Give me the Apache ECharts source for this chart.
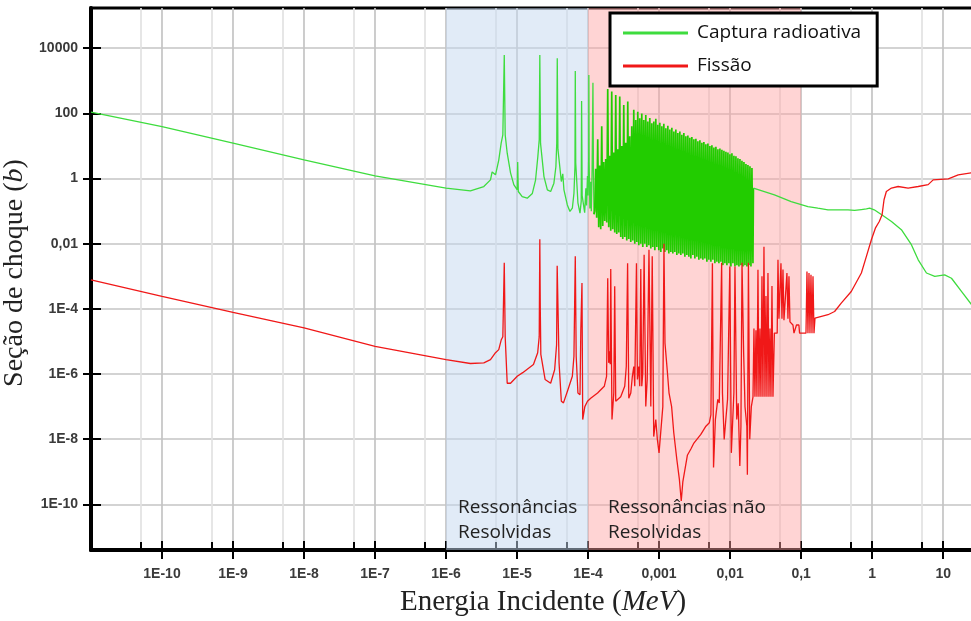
<!DOCTYPE html>
<html>
<head>
<meta charset="utf-8">
<script src="https://cdn.jsdelivr.net/npm/echarts@6/dist/echarts.min.js"></script>
<style>
  html, body { margin: 0; padding: 0; background: #fff; }
  #chart { width: 971px; height: 621px; }
</style>
</head>
<body>
<div id="chart"></div>
<script>
// Axis ranges (MeV, barn)
const xMin = 1e-11, xMax = 29;
const yMin = 3.96e-12, yMax = 1.72e5;

// Tick positions and their printed labels
const xTickValues = [1e-10, 1e-9, 1e-8, 1e-7, 1e-6, 1e-5, 1e-4, 1e-3, 1e-2, 1e-1, 1, 10];
const xTickLabels = ['1E-10', '1E-9', '1E-8', '1E-7', '1E-6', '1E-5', '1E-4', '0,001', '0,01', '0,1', '1', '10'];
const xMinorValues = [5e-11, 5e-10, 5e-9, 5e-8, 5e-7, 5e-6, 5e-5, 5e-4, 5e-3, 5e-2, 0.5, 5];
const yTickValues = [1e4, 1e2, 1, 1e-2, 1e-4, 1e-6, 1e-8, 1e-10];
const yTickLabels = ['10000', '100', '1', '0,01', '1E-4', '1E-6', '1E-8', '1E-10'];

// Energy bands of the resonance regions (MeV)
const resolvedBand = [1e-6, 1e-4];
const unresolvedBand = [1e-4, 0.1];

// Radiative capture: thermal range and resolved resonances [E (MeV), sigma (b)]
const captureResolved = [
  [1e-11, 110], [1e-10, 39], [1e-9, 12.3], [1e-8, 3.75], [1e-7, 1.21], [1e-6, 0.51],
  [2.2e-6, 0.42], [3.4e-6, 0.57], [4.22e-6, 0.91], [4.45e-6, 1.6], [4.97e-6, 1.3],
  [5.52e-6, 3.7], [5.97e-6, 12.3], [6.3e-6, 22], [6.6e-6, 6200], [6.8e-6, 22],
  [7.26e-6, 6.0], [8.09e-6, 1.5], [8.99e-6, 0.65], [1.005e-5, 0.45], [1.02e-5, 3.2],
  [1.04e-5, 0.4], [1.18e-5, 0.28], [1.39e-5, 0.25], [1.64e-5, 0.35], [1.82e-5, 0.9],
  [1.96e-5, 4.7], [2.05e-5, 15.5], [2.09e-5, 6200], [2.14e-5, 12], [2.39e-5, 1.15],
  [2.67e-5, 0.45], [2.97e-5, 0.4], [3.3e-5, 0.72], [3.52e-5, 2.3], [3.62e-5, 12.3],
  [3.68e-5, 4900], [3.76e-5, 8], [4.2e-5, 0.81], [4.4e-5, 1.4], [4.57e-5, 0.45],
  [5.1e-5, 0.155], [5.55e-5, 0.098], [6.0e-5, 0.123], [6.32e-5, 0.35], [6.53e-5, 2.3],
  [6.6e-5, 2000], [6.7e-5, 3], [7.19e-5, 0.18], [7.69e-5, 0.087], [8.0e-5, 0.2],
  [8.1e-5, 240], [8.25e-5, 0.3], [8.95e-5, 0.09], [9.3e-5, 0.5], [9.5e-5, 0.15],
  [9.8e-5, 1.2], [1.0e-4, 0.3], [1.02e-4, 5], [1.025e-4, 1500], [1.035e-4, 3],
  [1.06e-4, 0.12], [1.09e-4, 0.8], [1.11e-4, 0.1], [1.14e-4, 2], [1.17e-4, 870],
  [1.19e-4, 1.5], [1.21e-4, 0.08]
];

// Radiative capture: densely packed resonances up to ~20 keV
const captureDense = [
  [1.239e-4, 0.1], [1.280e-4, 2.0], [1.322e-4, 0.063], [1.366e-4, 16], [1.411e-4, 0.032],
  [1.458e-4, 2.5], [1.506e-4, 0.028], [1.556e-4, 40], [1.607e-4, 0.035], [1.660e-4, 3.2],
  [1.715e-4, 0.05], [1.771e-4, 4.0], [1.830e-4, 0.045], [1.890e-4, 560], [1.953e-4, 0.032],
  [2.017e-4, 5.0], [2.084e-4, 0.025], [2.152e-4, 470], [2.223e-4, 0.028], [2.297e-4, 6.3],
  [2.373e-4, 0.022], [2.451e-4, 370], [2.532e-4, 0.02], [2.615e-4, 7.9], [2.702e-4, 0.022],
  [2.791e-4, 330], [2.883e-4, 0.016], [2.978e-4, 10], [3.076e-4, 0.014], [3.178e-4, 180],
  [3.283e-4, 0.016], [3.391e-4, 12.6], [3.503e-4, 0.0126], [3.619e-4, 230], [3.738e-4, 0.014],
  [3.861e-4, 20], [3.989e-4, 0.0112], [4.120e-4, 40], [4.256e-4, 0.0126], [4.397e-4, 129],
  [4.542e-4, 0.01], [4.692e-4, 63], [4.847e-4, 0.0112], [5.007e-4, 112], [5.172e-4, 0.0089],
  [5.343e-4, 71], [5.519e-4, 0.01], [5.701e-4, 100], [5.890e-4, 0.0079], [6.084e-4, 63],
  [6.285e-4, 0.01], [6.492e-4, 89], [6.707e-4, 0.0079], [6.928e-4, 56], [7.157e-4, 0.0089],
  [7.393e-4, 72], [7.637e-4, 0.0071], [7.889e-4, 50], [8.149e-4, 0.0079], [8.418e-4, 56],
  [8.696e-4, 0.0063], [8.983e-4, 68], [9.279e-4, 0.0079], [9.586e-4, 45], [9.902e-4, 0.0063],
  [1.023e-3, 52], [1.057e-3, 0.0056], [1.092e-3, 40], [1.128e-3, 0.0071], [1.165e-3, 48],
  [1.203e-3, 0.0056], [1.243e-3, 35], [1.284e-3, 0.0063], [1.327e-3, 42], [1.370e-3, 0.005],
  [1.416e-3, 32], [1.463e-3, 0.0056], [1.511e-3, 36], [1.561e-3, 0.005], [1.612e-3, 28],
  [1.665e-3, 0.0056], [1.720e-3, 32], [1.777e-3, 0.0045], [1.836e-3, 25], [1.896e-3, 0.005],
  [1.959e-3, 28], [2.024e-3, 0.0045], [2.090e-3, 22], [2.159e-3, 0.005], [2.231e-3, 25],
  [2.304e-3, 0.004], [2.380e-3, 20], [2.459e-3, 0.0045], [2.540e-3, 21], [2.624e-3, 0.004],
  [2.710e-3, 18], [2.800e-3, 0.0035], [2.892e-3, 19], [2.988e-3, 0.0045], [3.086e-3, 16],
  [3.188e-3, 0.0035], [3.294e-3, 16.6], [3.402e-3, 0.004], [3.515e-3, 14], [3.631e-3, 0.0032],
  [3.750e-3, 15], [3.874e-3, 0.0035], [4.002e-3, 12.6], [4.134e-3, 0.0032], [4.270e-3, 13.2],
  [4.411e-3, 0.0035], [4.557e-3, 11.2], [4.707e-3, 0.0028], [4.863e-3, 12], [5.023e-3, 0.0032],
  [5.189e-3, 10], [5.360e-3, 0.0028], [5.537e-3, 10.5], [5.720e-3, 0.0032], [5.908e-3, 8.9],
  [6.103e-3, 0.0025], [6.305e-3, 9.5], [6.513e-3, 0.0028], [6.728e-3, 7.9], [6.950e-3, 0.0025],
  [7.180e-3, 8.3], [7.417e-3, 0.0028], [7.661e-3, 7.6], [7.914e-3, 0.0022], [8.175e-3, 7.1],
  [8.445e-3, 0.0025], [8.724e-3, 6.6], [9.012e-3, 0.0022], [9.309e-3, 6.3], [9.616e-3, 0.0025],
  [9.934e-3, 5.6], [1.026e-2, 0.002], [1.060e-2, 6.0], [1.095e-2, 0.0025], [1.131e-2, 5.0],
  [1.169e-2, 0.002], [1.207e-2, 4.8], [1.247e-2, 0.0022], [1.288e-2, 4.2], [1.331e-2, 0.002],
  [1.375e-2, 4.0], [1.420e-2, 0.0022], [1.467e-2, 3.5], [1.515e-2, 0.002], [1.565e-2, 3.2],
  [1.617e-2, 0.0022], [1.670e-2, 2.8], [1.725e-2, 0.002], [1.782e-2, 2.6], [1.841e-2, 0.0022],
  [1.902e-2, 2.4], [1.965e-2, 0.002], [2.029e-2, 2.1], [2.096e-2, 0.0025]
];

// Radiative capture: fast neutron range
const captureFast = [
  [2.13e-2, 0.51], [4.21e-2, 0.316], [7.24e-2, 0.195], [0.1245, 0.138], [0.172, 0.123],
  [0.239, 0.11], [0.457, 0.11], [0.566, 0.105], [0.705, 0.112], [0.83, 0.117],
  [0.923, 0.123], [1.07, 0.11], [1.43, 0.072], [1.87, 0.048], [2.58, 0.027],
  [3.57, 0.0093], [4.45, 0.0032], [5.82, 0.00126], [7.62, 0.001], [10.5, 0.0011],
  [13.1, 0.00087], [18.2, 0.00034], [25.1, 0.000135], [31, 0.00007]
];

// Fission: thermal range and resolved resonances
const fissionResolved = [
  [1e-11, 7.8e-4], [1e-10, 2.4e-4], [1e-9, 7.8e-5], [1e-8, 2.6e-5], [1e-7, 7.1e-6],
  [1e-6, 2.75e-6], [2.2e-6, 2.1e-6], [3.4e-6, 2.2e-6], [4.22e-6, 2.75e-6], [4.97e-6, 4.5e-6],
  [5.52e-6, 5.6e-6], [5.97e-6, 1.1e-5], [6.3e-6, 1.4e-5], [6.6e-6, 2.6e-3], [6.8e-6, 1.4e-5],
  [7.26e-6, 5.2e-7], [8.09e-6, 5.2e-7], [1.005e-5, 8.5e-7], [1.2e-5, 1.1e-6], [1.7e-5, 1.95e-6],
  [1.95e-5, 4.5e-6], [2.05e-5, 1.4e-5], [2.09e-5, 1.38e-2], [2.12e-5, 1.2e-4], [2.16e-5, 4e-6],
  [2.48e-5, 6.8e-7], [2.97e-5, 5.2e-7], [3.38e-5, 1.35e-6], [3.6e-5, 7.9e-6], [3.67e-5, 2.1e-3],
  [3.9e-5, 2.2e-6], [4.2e-5, 1.45e-7], [4.5e-5, 1.3e-7], [5.2e-5, 3.3e-7], [6.0e-5, 8.5e-7],
  [6.32e-5, 3.5e-6], [6.6e-5, 4.1e-3], [6.8e-5, 3.5e-6], [7.19e-5, 2.6e-7], [7.69e-5, 2.3e-7],
  [7.9e-5, 2.3e-5], [8.2e-5, 6.2e-4], [8.4e-5, 4e-8], [9.0e-5, 1.0e-7], [9.8e-5, 1.45e-7]
];

// Fission: unresolved resonance region
const fissionUnresolved = [
  [1.088e-4, 1.8e-7], [1.36e-4, 2.6e-7], [1.69e-4, 4.2e-7], [1.82e-4, 8.5e-7], [1.89e-4, 8.7e-4],
  [1.95e-4, 2.2e-6], [2.0e-4, 5e-6], [2.05e-4, 2.0e-6], [2.084e-4, 1.66e-3], [2.17e-4, 4e-8],
  [2.3e-4, 2.6e-7], [2.37e-4, 4.9e-4], [2.45e-4, 1.45e-7], [2.88e-4, 2.0e-7], [3.28e-4, 4.2e-7],
  [3.45e-4, 1.7e-6], [3.6e-4, 2.5e-3], [3.74e-4, 1.8e-7], [3.99e-4, 2.6e-7], [4.2e-4, 8.5e-7],
  [4.4e-4, 1.7e-6], [4.54e-4, 4.2e-7], [4.8e-4, 2.5e-3], [4.95e-4, 6.8e-7], [5.17e-4, 1.7e-6],
  [5.34e-4, 4.2e-7], [5.52e-4, 1.66e-3], [5.7e-4, 4.2e-7], [5.89e-4, 1.07e-6], [6.15e-4, 4.6e-3],
  [6.49e-4, 1.0e-7], [6.8e-4, 6.8e-7], [7.2e-4, 6.5e-3], [7.64e-4, 1.0e-7], [8.0e-4, 4.1e-3],
  [8.4e-4, 1.2e-8], [8.98e-4, 4e-8], [9.45e-4, 9.8e-9], [9.98e-4, 3.8e-9], [1.128e-3, 1.0e-7],
  [1.17e-3, 1.0e-2], [1.21e-3, 8.9e-6], [1.3e-3, 1.35e-6], [1.38e-3, 2.6e-7], [1.5e-3, 1.0e-7],
  [1.61e-3, 1.55e-8], [1.78e-3, 2.3e-9], [1.93e-3, 5.8e-10], [2.05e-3, 1.26e-10], [2.16e-3, 5e-10],
  [2.5e-3, 3.2e-9], [2.8e-3, 5e-9], [3.09e-3, 7.6e-9], [3.87e-3, 1.4e-8], [4.56e-3, 2.5e-8],
  [5.1e-3, 3.2e-8], [5.36e-3, 5.6e-8], [5.63e-3, 2.5e-3], [5.84e-3, 1.35e-9], [6.2e-3, 4e-8],
  [6.7e-3, 1.66e-7], [7.03e-3, 1.3e-7], [7.6e-3, 2.6e-3], [7.8e-3, 2.6e-7], [8.25e-3, 9.8e-9],
  [8.7e-3, 4e-8], [9.2e-3, 1.66e-7], [9.9e-3, 2.0e-3], [1.04e-2, 3.8e-9], [1.13e-2, 2.7e-7],
  [1.17e-2, 2.0e-3], [1.24e-2, 4e-8], [1.3e-2, 1.26e-7], [1.37e-2, 1.5e-9], [1.42e-2, 2.5e-8],
  [1.47e-2, 2.6e-3], [1.55e-2, 4.5e-6], [1.62e-2, 1e-7], [1.72e-2, 2.5e-8], [1.75e-2, 8.1e-10],
  [1.81e-2, 2.6e-3], [1.89e-2, 1e-8], [1.99e-2, 1e-7], [2.1e-2, 2.0e-7],
  [2.165e-2, 2.5e-5], [2.237e-2, 2.0e-7], [2.311e-2, 2.2e-5], [2.387e-2, 2.0e-7], [2.466e-2, 1.6e-3],
  [2.547e-2, 2.0e-7], [2.631e-2, 2.5e-5], [2.718e-2, 2.0e-7], [2.808e-2, 1.0e-3], [2.900e-2, 2.0e-7],
  [2.996e-2, 8.1e-3], [3.095e-2, 2.0e-7], [3.197e-2, 2.5e-4], [3.302e-2, 2.0e-7], [3.411e-2, 1.26e-3],
  [3.524e-2, 2.0e-7], [3.640e-2, 2.5e-5], [3.760e-2, 2.0e-7], [3.884e-2, 5e-4], [4.012e-2, 2.0e-7],
  [4.2e-2, 1.8e-5], [4.42e-2, 1.6e-5], [4.6e-2, 1.8e-5], [4.72e-2, 3.2e-3], [4.87e-2, 5e-5],
  [5.2e-2, 2.5e-3], [5.37e-2, 5e-5], [5.55e-2, 1.6e-3], [5.73e-2, 4.5e-5], [6.31e-2, 1.26e-3],
  [6.52e-2, 5e-5], [6.74e-2, 1.0e-3], [6.96e-2, 4e-5], [7.19e-2, 4e-5], [7.67e-2, 3.2e-5],
  [7.93e-2, 1.8e-5], [8.46e-2, 1.8e-5], [8.6e-2, 3.2e-5], [9.3e-2, 3.2e-5], [9.5e-2, 1.8e-5],
  [0.117, 1.8e-5], [0.1208, 1.4e-3], [0.1248, 1.8e-5], [0.129, 1.26e-3], [0.1332, 1.8e-5],
  [0.1376, 1.12e-3], [0.1422, 1.8e-5], [0.1469, 1.0e-3], [0.1517, 1.8e-5], [0.1567, 5.2e-5],
  [0.1619, 5.9e-5]
];

// Fission: fast neutron range (threshold behaviour)
const fissionFast = [
  [0.239, 6.6e-5], [0.296, 8.3e-5], [0.367, 1.5e-4], [0.508, 3.4e-4], [0.705, 1.26e-3],
  [0.83, 4.1e-3], [0.975, 1.32e-2], [1.11, 0.03], [1.26, 0.048], [1.38, 0.078],
  [1.47, 0.224], [1.585, 0.4], [1.87, 0.51], [2.32, 0.57], [3.21, 0.51],
  [4.45, 0.57], [6.15, 0.65], [7.23, 0.91], [11.8, 0.98], [16.3, 1.29],
  [25.1, 1.51], [31, 1.6]
];

const CAPTURE = 'Captura radioativa';
const FISSION = 'Fissão';

function tickFormatter(values, labels) {
  return function (v) {
    const i = values.findIndex(t => Math.abs(Math.log10(t) - Math.log10(v)) < 1e-6);
    return i >= 0 ? labels[i] : '';
  };
}

const tickFont = { fontFamily: 'Liberation Sans', fontSize: 14, fontWeight: 'bold', color: '#3a3a3a' };
const serif = 'Liberation Serif';
const sans = 'Open Sans';

const chart = echarts.init(document.getElementById('chart'), null, { renderer: 'canvas' });

const hiddenAxisParts = { axisLine: { show: false }, axisLabel: { show: false }, splitLine: { show: false } };

chart.setOption({
  animation: false,
  backgroundColor: '#fff',
  grid: {
    left: 91, top: 8, right: -5, bottom: 71,
    outerBoundsMode: 'none', containLabel: false,
    show: true, borderColor: '#000', borderWidth: 3, backgroundColor: 'transparent'
  },
  legend: {
    data: [CAPTURE, FISSION],
    orient: 'vertical',
    left: 610, top: 13,
    icon: 'rect', itemWidth: 65, itemHeight: 3, itemGap: 9,
    padding: [8, 16, 8, 13],
    backgroundColor: '#fff', borderColor: '#000', borderWidth: 3, borderRadius: 0,
    textStyle: { fontFamily: sans, fontSize: 19, color: '#111', lineHeight: 24, padding: [0, 0, 0, 4] }
  },
  xAxis: [
    {
      type: 'log', min: xMin, max: xMax, position: 'bottom',
      axisLine: { show: true, onZero: false, lineStyle: { color: '#000', width: 4 } },
      axisTick: { show: true, customValues: xTickValues, length: 9, lineStyle: { color: '#000', width: 2 } },
      axisLabel: Object.assign({ customValues: xTickValues, margin: 17, formatter: tickFormatter(xTickValues, xTickLabels) }, tickFont),
      splitLine: { show: true, lineStyle: { color: '#c4c4c4', width: 1.7 } },
      name: '{n|Energia Incidente (}{i|MeV}{n|)}',
      nameLocation: 'middle', nameGap: 38,
      nameTextStyle: {
        padding: [0, 0, 0, 19],
        rich: {
          n: { fontFamily: serif, fontSize: 29, color: '#222' },
          i: { fontFamily: serif, fontSize: 29, fontStyle: 'italic', color: '#222' }
        }
      }
    },
    Object.assign({
      type: 'log', min: xMin, max: xMax, position: 'bottom',
      axisTick: { show: true, inside: true, customValues: xTickValues, length: 9, lineStyle: { color: '#000', width: 2 } }
    }, hiddenAxisParts),
    Object.assign({
      type: 'log', min: xMin, max: xMax, position: 'bottom',
      axisTick: { show: true, inside: true, customValues: xMinorValues, length: 8, lineStyle: { color: '#000', width: 2 } }
    }, hiddenAxisParts, { splitLine: { show: true, lineStyle: { color: '#e2e2e2', width: 1.7 } } })
  ],
  yAxis: [
    {
      type: 'log', min: yMin, max: yMax, position: 'left',
      axisLine: { show: true, onZero: false, lineStyle: { color: '#000', width: 4 } },
      axisTick: { show: true, customValues: yTickValues, length: 8, lineStyle: { color: '#000', width: 2 } },
      axisLabel: Object.assign({ customValues: yTickValues, margin: 13, formatter: tickFormatter(yTickValues, yTickLabels) }, tickFont),
      splitLine: { show: true, lineStyle: { color: '#c4c4c4', width: 1.7 } },
      name: '{n|Seção de choque (}{i|b}{n|)}',
      nameLocation: 'middle', nameGap: 50, nameRotate: 90,
      nameTextStyle: {
        padding: [0, 0, 0, 12],
        rich: {
          n: { fontFamily: serif, fontSize: 28, color: '#222' },
          i: { fontFamily: serif, fontSize: 28, fontStyle: 'italic', color: '#222' }
        }
      }
    },
    Object.assign({
      type: 'log', min: yMin, max: yMax, position: 'left',
      axisTick: { show: true, inside: true, customValues: yTickValues, length: 10, lineStyle: { color: '#000', width: 2 } }
    }, hiddenAxisParts)
  ],
  series: [
    {
      // shaded resonance regions
      type: 'line', data: [], silent: true, z: 1,
      markArea: {
        silent: true,
        data: [
          [{
            name: 'Ressonâncias\nResolvidas', xAxis: resolvedBand[0],
            itemStyle: { color: 'rgba(196,216,240,0.5)' },
            label: { position: 'insideBottomLeft', distance: 5, offset: [7, 0] }
          }, { xAxis: resolvedBand[1] }],
          [{
            name: 'Ressonâncias não\nResolvidas', xAxis: unresolvedBand[0],
            itemStyle: { color: 'rgba(255,160,160,0.45)' },
            label: { position: 'insideBottomLeft', distance: 5, offset: [15, 0] }
          }, { xAxis: unresolvedBand[1] }]
        ],
        label: { show: true, fontFamily: sans, fontSize: 19, lineHeight: 25, color: '#222', align: 'left' }
      }
    },
    {
      name: CAPTURE, type: 'line', data: captureResolved, z: 3,
      showSymbol: false, color: '#3edc3e', lineStyle: { width: 1.3, color: '#3edc3e' }
    },
    {
      name: CAPTURE, type: 'line', z: 3,
      data: [captureResolved[captureResolved.length - 1]].concat(captureDense, [captureFast[0]]),
      showSymbol: false, color: '#22cc00', lineStyle: { width: 1.7, color: '#22cc00' }
    },
    {
      name: CAPTURE, type: 'line', data: captureFast, z: 3,
      showSymbol: false, color: '#3edc3e', lineStyle: { width: 1.3, color: '#3edc3e' }
    },
    {
      name: FISSION, type: 'line', z: 4,
      data: fissionResolved.concat(fissionUnresolved, fissionFast),
      showSymbol: false, color: '#f01818', lineStyle: { width: 1.3, color: '#f01818' }
    }
  ]
});
</script>
</body>
</html>
